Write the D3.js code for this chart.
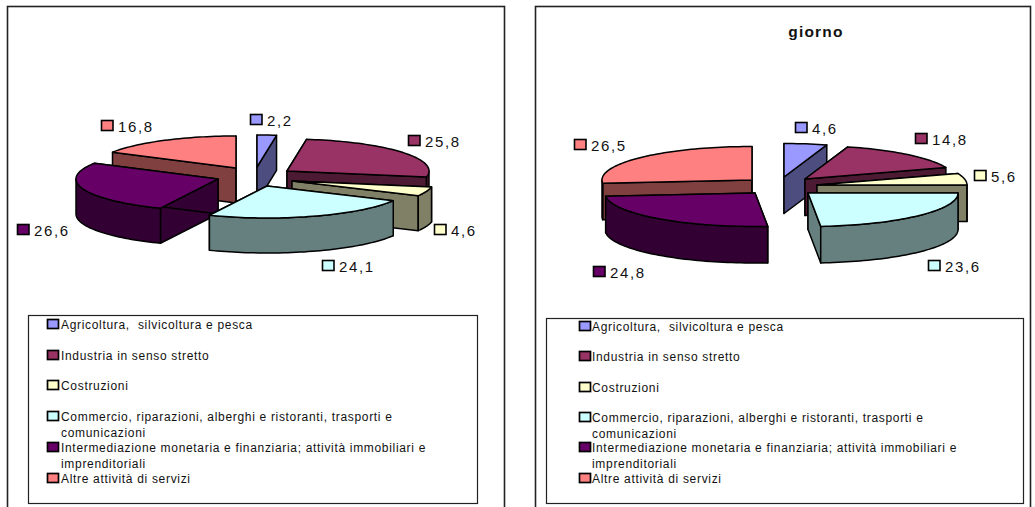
<!DOCTYPE html>
<html><head><meta charset="utf-8">
<script src="https://cdn.jsdelivr.net/npm/d3@7"></script>
<style>
html,body{margin:0;padding:0;background:#fff;overflow:hidden}
svg{display:block}
text{font-family:"Liberation Sans",Arial,sans-serif;fill:#111;white-space:pre}
</style></head><body><svg id="c" width="1035" height="507"></svg>
<script>
const categories=["Agricoltura,  silvicoltura e pesca","Industria in senso stretto","Costruzioni","Commercio, riparazioni, alberghi e ristoranti, trasporti e comunicazioni","Intermediazione monetaria e finanziaria; attività immobiliari e imprenditoriali","Altre attività di servizi"];
const legendLines=[["Agricoltura,  silvicoltura e pesca"],["Industria in senso stretto"],["Costruzioni"],["Commercio, riparazioni, alberghi e ristoranti, trasporti e","comunicazioni"],["Intermediazione monetaria e finanziaria; attività immobiliari e","imprenditoriali"],["Altre attività di servizi"]];
const valuesLeft=[2.2,25.8,4.6,24.1,26.6,16.8];
const valuesRight=[4.6,14.8,5.6,23.6,24.8,26.5];
const topColors=["#9999FF","#993366","#FFFFCC","#CCFFFF","#660066","#FF8080"];
const wallColors=["#4D4D80","#4D1A33","#808066","#668080","#330033","#804040"];
const drawOrder=[0,5,1,4,2,3];

const charts=[
 {values:valuesLeft,title:null,frame:[7,6,497,520],rx:142,ry:32,depth:35,
  apex:[[257,167],[287,171],[292,181],[267,186],[218,179],[236,168]],
  labels:[[250,114],[408,135],[434,224],[322,260],[17,224],[101,120]],
  legend:{box:[28,315,449,188],key:47,text:61,rows:[324,355,385,416,447,478],sub:[null,null,null,432,463,null]}},
 {values:valuesRight,title:"giorno",frame:[535,6,495,520],rx:150,ry:33.5,depth:36.5,
  apex:[[784,177],[805,179],[817,185],[808,193],[755,193],[752,180]],
  labels:[[795,122],[915,133],[974,170],[928,260],[593,266],[574,139]],
  legend:{box:[546,318,477,185],key:579,text:592,rows:[326,356,387,417,447,478],sub:[null,null,null,433,463,null]}}
];
const svg=d3.select("#c");
const fmt=v=>String(v).replace(".",",");
const pieGen=d3.pie().sort(null).value(d=>d);

charts.forEach(ch=>{
  const g=svg.append("g");
  const [fx,fy,fw,fh]=ch.frame;
  g.append("rect").attr("x",fx+.5).attr("y",fy+.5).attr("width",fw).attr("height",fh)
    .attr("fill","#fff").attr("stroke","#222").attr("stroke-width",1.6);
  if(ch.title) g.append("text").attr("x",fx+281).attr("y",36.5).attr("text-anchor","middle")
    .attr("font-size",15.5).attr("font-weight","bold").attr("letter-spacing",1.2).text(ch.title);
  const arcs=pieGen(ch.values);
  const pt=(i,a,dz=0)=>[ch.apex[i][0]+ch.rx*Math.sin(a),ch.apex[i][1]-ch.ry*Math.cos(a)+dz];
  const arcPts=(i,a0,a1,dz=0)=>{const n=Math.max(2,Math.ceil((a1-a0)/0.03));
    return d3.range(n+1).map(k=>pt(i,a0+(a1-a0)*k/n,dz));};
  const line=d3.line();
  drawOrder.forEach(i=>{
    const a=arcs[i],s=a.startAngle,e=a.endAngle,[ax,ay]=ch.apex[i],d=ch.depth;
    const sl=g.append("g").attr("stroke","#000").attr("stroke-width",1.5).attr("stroke-linejoin","round");
    [s,e].forEach(t=>{
      const p=pt(i,t);
      sl.append("path").attr("fill",wallColors[i])
        .attr("d",line([[ax,ay],p,[p[0],p[1]+d],[ax,ay+d]])+"Z");
    });
    const f0=Math.max(s,Math.PI/2),f1=Math.min(e,3*Math.PI/2);
    if(f1>f0){
      const up=arcPts(i,f0,f1),lo=arcPts(i,f0,f1,d).reverse();
      sl.append("path").attr("fill",wallColors[i]).attr("d",line(up.concat(lo))+"Z");
    }
    sl.append("path").attr("fill",topColors[i]).attr("d",line([[ax,ay]].concat(arcPts(i,s,e)))+"Z");
  });
  ch.labels.forEach((l,i)=>{
    g.append("rect").attr("x",l[0]+.5).attr("y",l[1]+.5).attr("width",11.5).attr("height",10)
      .attr("fill",topColors[i]).attr("stroke","#000").attr("stroke-width",1.6);
    g.append("text").attr("x",l[0]+17).attr("y",l[1]+11.5).attr("font-size",15).attr("letter-spacing",1.6).text(fmt(ch.values[i]));
  });
  const L=ch.legend;
  g.append("rect").attr("x",L.box[0]+.5).attr("y",L.box[1]+.5).attr("width",L.box[2]).attr("height",L.box[3])
    .attr("fill","#fff").attr("stroke","#222").attr("stroke-width",1.2);
  categories.forEach((c,i)=>{
    g.append("rect").attr("x",L.key+.5).attr("y",L.rows[i]-4.5).attr("width",11).attr("height",9)
      .attr("fill",topColors[i]).attr("stroke","#000").attr("stroke-width",1.7);
    legendLines[i].forEach((t,j)=>{
      const y=j===0?L.rows[i]:L.sub[i];
      g.append("text").attr("x",L.text).attr("y",y+4.5).attr("font-size",12).attr("letter-spacing",0.68).text(t);
    });
  });
});
</script></body></html>
